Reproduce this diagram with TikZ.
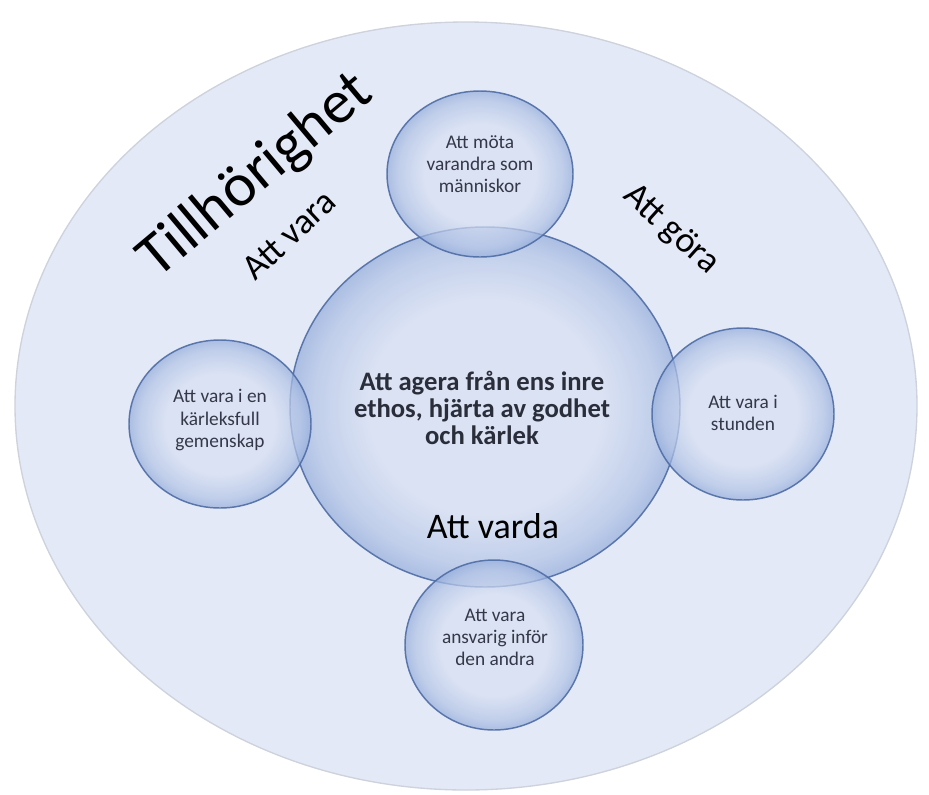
\documentclass[tikz,border=0pt]{standalone}
\usepackage{fontspec}
\setmainfont{Carlito}
\usepackage{tikz}
\usetikzlibrary{positioning, shapes.geometric}
\definecolor{blue1}{RGB}{78,108,165}
\definecolor{bg1}{RGB}{227,233,246}
\definecolor{in1}{RGB}{216,224,243}
\definecolor{out1}{RGB}{150,174,220}
\definecolor{text1}{RGB}{52,56,72}
\definecolor{rim1}{RGB}{205,210,220}
\pgfdeclareradialshading{bubbleshade}{\pgfpoint{0bp}{0bp}}{color(0bp)=(in1); color(15bp)=(in1); color(22bp)=(out1!55!in1); color(25bp)=(out1); color(50bp)=(out1)}

\begin{document}
\begin{tikzpicture}[x=0.75pt, y=-0.75pt,
    bubble/.style 2 args={ellipse, draw=blue1, line width=1.1pt, shading=bubbleshade,
      fill opacity=0.72, draw opacity=0.9, minimum width=#1*1.5pt,
      minimum height=#2*1.5pt, inner sep=0pt},
    smalltext/.style={align=center, text=text1, font=\fontsize{14.5}{16.5}\selectfont},
    bigtext/.style={text=black, inner sep=0pt, font=\fontsize{27}{30}\selectfont}
]
\useasboundingbox (0,0) rectangle (929,794);

% outer field
\node[ellipse, draw=rim1, line width=1pt, fill=bg1, minimum width=902*0.75pt,
  minimum height=768*0.75pt, inner sep=0pt] (field) at (466,406) {};

% bubbles
\node[bubble={195}{180}] (core) at (485,407) {};
\node[bubble={93}{83}] (mota) at (480,174) {};
\node[bubble={91}{84}] (gemenskap) at (220,424) {};
\node[bubble={91}{86}] (stunden) at (743,414) {};
\node[bubble={89}{85}] (ansvar) at (494,645) {};

% texts in the bubbles
\node[align=center, text=text1!80!black, font=\fontsize{20}{20.5}\selectfont\bfseries]
  (coretext) at (482,408) {Att agera från ens inre\\ethos, hjärta av godhet\\och kärlek};
\node[smalltext] (motatext) at (480,164) {Att möta\\varandra som\\människor};
\node[smalltext] (gemenskaptext) at (220,420) {Att vara i en\\kärleksfull\\gemenskap};
\node[smalltext] (stundentext) at (743,413) {Att vara i\\stunden};
\node[smalltext] (ansvartext) at (495,637) {Att vara\\ansvarig inför\\den andra};

% words round the core
\node[font=\fontsize{46}{50}\selectfont, inner sep=0pt, rotate=40] (tillhor) at (256,176) {Tillhörighet};
\node[bigtext, rotate=43] (vara) at (289,235) {Att vara};
\node[bigtext, rotate=-42] (gora) at (671,230) {Att göra};
\node[bigtext] (varda) at (493,526) {Att varda};

\end{tikzpicture}
\end{document}
